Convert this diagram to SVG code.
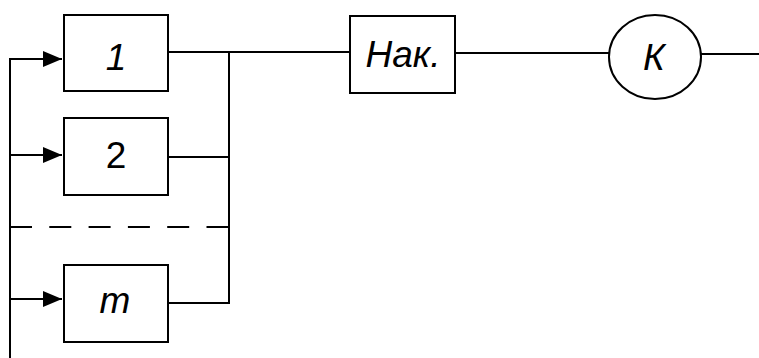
<svg xmlns="http://www.w3.org/2000/svg" width="759" height="358" viewBox="0 0 759 358">
<style>
.b{fill:#fff;stroke:#000;stroke-width:2}
.l{fill:none;stroke:#000;stroke-width:2}
.t{font-family:"Liberation Sans",Arial,sans-serif;font-size:37px;text-anchor:middle;fill:#000}
.i{font-style:italic}
</style>
<defs>
<marker id="a" markerWidth="19" markerHeight="16" refX="19" refY="8" orient="auto" markerUnits="userSpaceOnUse" viewBox="0 0 19 16">
<path d="M0,0 L19,8 L0,16 z" fill="#000"/>
</marker>
</defs>
<g id="connectors">
<path class="l" d="M10,358 V59 H62" marker-end="url(#a)"/>
<path class="l" d="M10,155 H62" marker-end="url(#a)"/>
<path class="l" d="M10,299 H62" marker-end="url(#a)"/>
<path class="l" d="M168,52 H350"/>
<path class="l" d="M168,157 H229"/>
<path class="l" d="M168,303 H229 V52"/>
<path class="l" d="M10,227 H229" stroke-dasharray="22,17.3"/>
<path class="l" d="M455,53 H609"/>
<path class="l" d="M701,54 H759"/>
</g>
<g id="n1"><rect class="b" x="64" y="15" width="104" height="76"/><text class="t i" x="116" y="70">1</text></g>
<g id="n2"><rect class="b" x="64" y="118" width="104" height="77"/><text class="t" x="116" y="168">2</text></g>
<g id="nm"><rect class="b" x="64" y="265" width="104" height="77"/><text class="t i" x="115" y="313">m</text></g>
<g id="nak"><rect class="b" x="350" y="16" width="105" height="77"/><text class="t i" x="403" y="67">Нак.</text></g>
<g id="k"><ellipse class="b" cx="655" cy="57" rx="46" ry="42" stroke-width="1.5"/><text class="t i" x="654" y="70">К</text></g>
</svg>
